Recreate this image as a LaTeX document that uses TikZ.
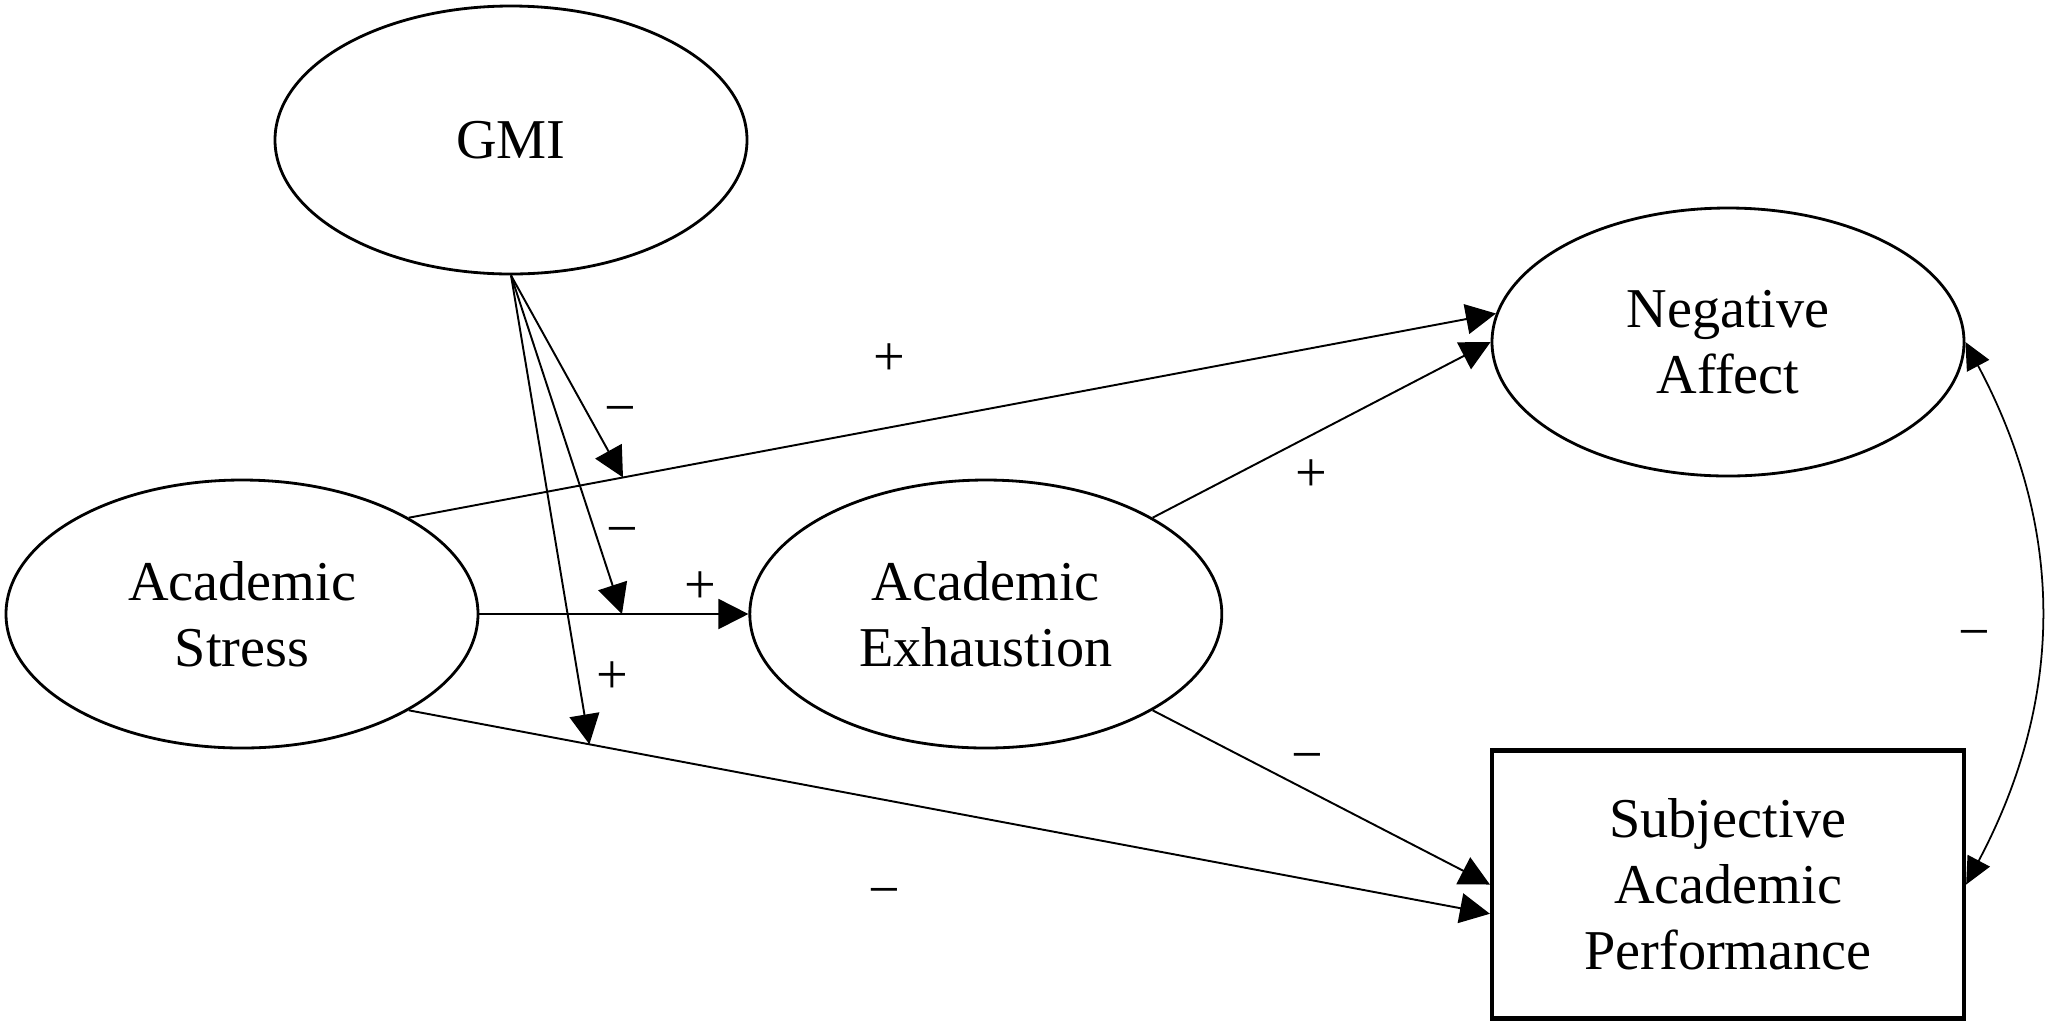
\documentclass[tikz,border=0pt]{standalone}
\usepackage{fontspec}
\setmainfont{Liberation Serif}
\usetikzlibrary{shapes.geometric, arrows.meta, positioning}
\tikzset{
    latent/.style={ellipse, draw, line width=0.8pt, minimum width=4.72cm, minimum height=2.68cm, inner sep=0pt, align=center},
    observed/.style={rectangle, draw, line width=1.2pt, minimum width=4.72cm, minimum height=2.68cm, inner sep=0pt, align=center},
    arr/.style={-{Triangle[length=3mm, width=3mm]}, line width=0.55pt},
    biarr/.style={{Triangle[length=2.7mm, width=2.5mm]}-{Triangle[length=2.7mm, width=2.5mm]}, line width=0.5pt},
    sgn/.style={inner sep=0pt, text height=0.5em, text depth=0pt, yshift=-1.2mm},
}

\begin{document}
\begin{tikzpicture}[font=\fontsize{16}{18.8}\selectfont]
\path[use as bounding box, fill=white] (0,0) rectangle (20.56,-10.24);

% latent variables
\node[latent] (gmi) at (5.11,-1.40) {GMI};
\node[latent] (as) at (2.42,-6.14) {Academic\\Stress};
\node[latent, right=2.69cm of as] (ae) {Academic\\Exhaustion};
\node[latent] (na) at (17.28,-3.42) {Negative\\Affect};

% observed outcome
\node[observed, below=2.71cm of na] (sap) {Subjective\\Academic\\Performance};

% direct paths
\draw[arr] (as.30) -- coordinate[pos=0.197] (m1) node[sgn, pos=0.44, xshift=0.02cm, yshift=0.73cm] {+} (na.173);
\draw[arr] (as.east) -- coordinate[pos=0.53] (m2) node[sgn, pos=0.82, yshift=0.31cm] {+} (ae.west);
\draw[arr] (as.-30) -- coordinate[pos=0.167] (m3) node[sgn, pos=0.44, yshift=-0.88cm] {−} (sap.187);
\draw[arr] (ae.30) -- node[sgn, pos=0.47, yshift=-0.36cm] {+} (na.west);
\draw[arr] (ae.-30) -- node[sgn, pos=0.46, yshift=0.38cm] {−} (sap.west);

% moderation by GMI
\draw[arr] (gmi.south) -- node[sgn, pos=0.645, xshift=0.37cm] {−} (m1);
\draw[arr] (gmi.south) -- node[sgn, pos=0.743, xshift=0.285cm] {−} (m2);
\draw[arr] (gmi.south) -- node[sgn, pos=0.848, xshift=0.35cm] {+} (m3);

% residual correlation
\draw[biarr] (na.east) to[bend left=28] node[sgn, pos=0.5, xshift=-0.66cm, yshift=-0.17cm] {−} (sap.east);

\end{tikzpicture}
\end{document}
